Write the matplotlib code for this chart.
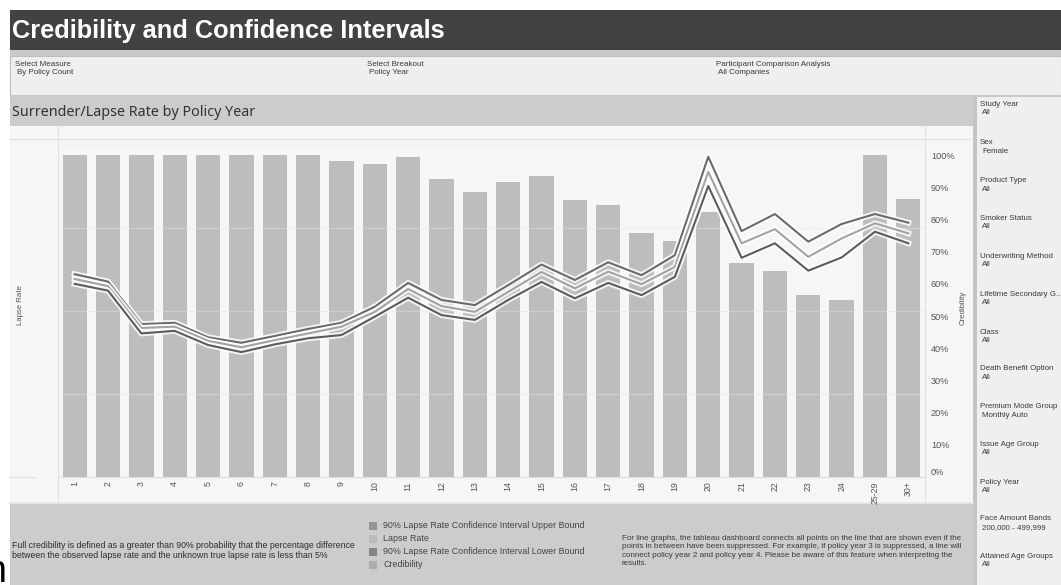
import matplotlib
matplotlib.use("Agg")
import matplotlib.pyplot as plt
from matplotlib.patches import Rectangle
from matplotlib.lines import Line2D
from matplotlib.ticker import MultipleLocator, FixedLocator
import matplotlib.patheffects as pe

# ---------------- data ----------------
policy_years = ["1", "2", "3", "4", "5", "6", "7", "8", "9", "10", "11", "12", "13",
                "14", "15", "16", "17", "18", "19", "20", "21", "22", "23", "24",
                "25-29", "30+"]
credibility = [100, 100, 100, 100, 100, 100, 100, 100, 98.1, 97.2, 99.5, 92.5, 88.4,
               91.7, 93.6, 86.0, 84.5, 75.7, 73.4, 82.4, 66.4, 64.1, 56.5, 55.0,
               100, 86.3]
# lapse rate lines (plotted on the hidden "Lapse Rate" axis, same vertical scale)
ci_upper = [63.0, 60.7, 47.5, 47.9, 43.4, 41.7, 43.8, 46.0, 47.9, 52.9, 60.3, 55.0, 53.4,
            59.6, 66.0, 61.2, 66.7, 62.7, 68.9, 99.5, 76.4, 81.7, 73.1, 78.6, 81.7, 79.0]
lapse_rate = [61.5, 59.3, 46.3, 46.7, 42.3, 40.3, 42.5, 44.6, 46.7, 51.3, 58.4, 53.1, 51.3,
              57.5, 63.7, 58.6, 63.8, 59.9, 65.3, 94.8, 72.6, 77.0, 68.4, 74.1, 78.8, 75.7]
ci_lower = [60.0, 57.9, 44.6, 45.4, 41.0, 38.8, 41.2, 43.1, 44.1, 49.8, 55.7, 50.3, 48.8,
            55.0, 60.6, 55.5, 60.3, 56.5, 62.2, 90.4, 68.1, 72.6, 64.1, 68.2, 76.2, 72.6]
cred_ticks = [0, 10, 20, 30, 40, 50, 60, 70, 80, 90, 100]

filters_top = [("Select Measure", "By Policy Count"),
               ("Select Breakout", "Policy Year"),
               ("Participant Comparison Analysis", "All Companies")]
sidebar = [("Study Year", "All"), ("Sex", "Female"), ("Product Type", "All"),
           ("Smoker Status", "All"), ("Underwriting Method", "All"),
           ("Lifetime Secondary G..", "All"), ("Class", "All"),
           ("Death Benefit Option", "All"), ("Premium Mode Group", "Monthly Auto"),
           ("Issue Age Group", "All"), ("Policy Year", "All"),
           ("Face Amount Bands", "200,000 - 499,999"), ("Attained Age Groups", "All")]
legend_labels = ["90% Lapse Rate Confidence Interval Upper Bound", "Lapse Rate",
                 "90% Lapse Rate Confidence Interval Lower Bound", "Credibility"]

# ---------------- styling ----------------
W, H = 1061, 585
SANS = ["Liberation Sans", "DejaVu Sans"]
BAR_C = "#bdbdbd"
UP_C, MID_C, LOW_C = "#6b6b6b", "#a3a3a3", "#5c5c5c"
legend_colors = ["#949494", "#bababa", "#878787", "#adadad"]

plt.rcParams["font.family"] = SANS
fig = plt.figure(figsize=(W / 100, H / 100), dpi=100, facecolor="white")


def rect(x0, y0, x1, y1, color, z=-10, ec="none", lw=0):
    fig.add_artist(Rectangle((x0 / W, 1 - y1 / H), (x1 - x0) / W, (y1 - y0) / H,
                             transform=fig.transFigure, facecolor=color,
                             edgecolor=ec, linewidth=lw, zorder=z))


def hline(x0, x1, y, color="#e2e2e2", lw=0.8, z=-8):
    fig.add_artist(Line2D([x0 / W, x1 / W], [1 - y / H, 1 - y / H],
                          transform=fig.transFigure, color=color, lw=lw, zorder=z))


def vline(x, y0, y1, color="#e2e2e2", lw=0.8, z=-8):
    fig.add_artist(Line2D([x / W, x / W], [1 - y0 / H, 1 - y1 / H],
                          transform=fig.transFigure, color=color, lw=lw, zorder=z))


def txt(x, y, s, size, color="#333333", **kw):
    kw.setdefault("va", "center")
    fig.text(x / W, 1 - y / H, s, fontsize=size, color=color, **kw)


# backgrounds
rect(10, 10, W, 50, "#424242")
rect(10, 50, W, 56, "#c9c9c9")
rect(10, 56, W, 95, "#efefef", ec="#bdbdbd", lw=0.8)
rect(10, 95, W, 97, "#c9c9c9")
rect(10, 97, 975, 126, "#cccccc")
rect(10, 126, 975, 503, "#f6f6f6")
rect(10, 503, 975, H, "#cccccc")
rect(975, 97, W, H, "#efefef")
rect(973, 97, 977, H, "#c4c4c4", z=-9)

# panel lines
hline(10, 973, 139)
vline(58, 126, 503)
vline(925, 126, 503)
hline(10, 35, 477)
hline(10, 973, 503, color="#e8e8e8", lw=1.2)

# title & filter bar
txt(12, 31, "Credibility and Confidence Intervals", 18.3, "white", fontweight="bold")
for (lab, val), fx in zip(filters_top, [15, 367, 716]):
    txt(fx, 64, lab, 5.8, "#3a3a3a")
    txt(fx + 2, 72, val, 5.8, "#3a3a3a")

# chart header
txt(12, 112, "Surrender/Lapse Rate by Policy Year", 10.3, "#333333",
    family=["Noto Sans", "DejaVu Sans"])

# ---------------- main chart ----------------
ax = fig.add_axes([58 / W, 1 - 477 / H, (925 - 58) / W, (477 - 139) / H])
ax.set_facecolor("none")
x = list(range(len(policy_years)))
ax.bar(x, credibility, width=0.73, color=BAR_C, zorder=1)
ax.set_xlim(-0.5, len(policy_years) - 0.5)
ax.set_ylim(0, 105)
ax.set_xticks(x)
ax.set_xticklabels(policy_years, rotation=90)
ax.tick_params(axis="x", length=0, pad=3, labelsize=6.3, labelcolor="#555555")
for s in ["top", "left", "right"]:
    ax.spines[s].set_visible(False)
ax.spines["bottom"].set_color("#dedede")
ax.spines["bottom"].set_linewidth(0.8)

# lapse-rate axis (hidden labels, carries gridlines and lines)
ax2 = ax.twinx()
ax2.set_ylim(0, 105)
ax2.set_facecolor("none")
ax2.yaxis.tick_left()
ax2.yaxis.set_major_locator(MultipleLocator(25.75))
ax2.set_yticklabels([])
ax2.tick_params(axis="y", length=0)
ax2.grid(axis="y", color="#e6e6e6", lw=0.9, alpha=0.45)
ax2.set_axisbelow(False)
for s in ax2.spines.values():
    s.set_visible(False)
halo = [pe.Stroke(linewidth=4.2, foreground="white", alpha=0.85), pe.Normal()]
ax2.plot(x, ci_upper, color=UP_C, lw=1.5, path_effects=halo, zorder=3)
ax2.plot(x, lapse_rate, color=MID_C, lw=1.5, path_effects=halo, zorder=3)
ax2.plot(x, ci_lower, color=LOW_C, lw=1.5, path_effects=halo, zorder=3)

# credibility axis on the right
ax.yaxis.tick_right()
ax.yaxis.set_major_locator(FixedLocator(cred_ticks))
ax.set_yticklabels([f"{t}%" for t in cred_ticks])
ax.tick_params(axis="y", which="both", length=0, left=False, right=False,
               labelleft=False, labelright=True, pad=4.3, labelsize=6.6,
               labelcolor="#555555")
ax.get_yticklabels()[0].set_va("bottom")

txt(21, 305, "Lapse Rate", 5.6, "#555555", rotation=90, ha="center")
txt(963, 308, "Credibility", 5.6, "#555555", rotation=90, ha="center")

# ---------------- sidebar ----------------
side_y = [104, 143, 181, 218, 256, 294, 332, 369, 407, 444, 482, 519, 556]
for (lab, val), sy in zip(sidebar, side_y):
    txt(980, sy, lab, 5.7, "#3a3a3a")
    txt(982, sy + 8.5, val, 5.7, "#3a3a3a")

# ---------------- bottom notes & legend ----------------
txt(12, 545.5, "Full credibility is defined as a greater than 90% probability that the percentage difference",
    6.3, "#2e2e2e")
txt(12, 556, "between the observed lapse rate and the unknown true lapse rate is less than 5%",
    6.3, "#2e2e2e")

leg_y = [525.5, 538.5, 551.5, 564.5]
for lab, col, ly in zip(legend_labels, legend_colors, leg_y):
    rect(369, ly - 4, 377, ly + 4, col, z=-7)
    txt(383, ly, lab, 6.4, "#444444")

note = ["For line graphs, the tableau dashboard connects all points on the line that are shown even if the",
        "points in between have been suppressed. For example, if policy year 3 is suppressed, a line will",
        "connect policy year 2 and policy year 4. Please be aware of this feature when interpreting the",
        "results."]
for i, line in enumerate(note):
    txt(622, 538.5 + i * 8.4, line, 5.8, "#3a3a3a")

# clipped glyph at the lower left edge of the screenshot
fig.text(6 / W, 1 - 582 / H, "n", fontsize=27, color="black", ha="right", va="baseline")

fig.savefig("out.png", dpi=100, facecolor="white")
